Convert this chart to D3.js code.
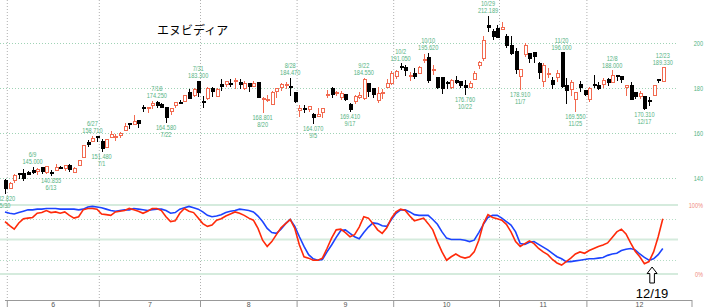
<!DOCTYPE html>
<html>
<head>
<meta charset="utf-8">
<script src="https://cdn.jsdelivr.net/npm/d3@7"></script>
<style>
  body { margin: 0; background: #fff; }
  svg { display: block; }
</style>
</head>
<body>
<svg id="chart" width="706" height="308"></svg>
<script>
// trading days 5/30 .. 12/23
const dates = ['5/30',
  '6/2','6/3','6/4','6/5','6/6','6/9','6/10','6/11','6/12','6/13','6/16','6/17','6/18','6/20','6/23','6/24','6/25','6/26','6/27','6/30',
  '7/1','7/2','7/3','7/7','7/8','7/9','7/10','7/11','7/14','7/15','7/16','7/17','7/18','7/21','7/22','7/23','7/24','7/25','7/28','7/29','7/30','7/31',
  '8/1','8/4','8/5','8/6','8/7','8/8','8/11','8/12','8/13','8/14','8/15','8/18','8/19','8/20','8/21','8/22','8/25','8/26','8/27','8/28','8/29',
  '9/2','9/3','9/4','9/5','9/8','9/9','9/10','9/11','9/12','9/15','9/16','9/17','9/18','9/19','9/22','9/23','9/24','9/25','9/26','9/29','9/30',
  '10/1','10/2','10/3','10/6','10/7','10/8','10/9','10/10','10/13','10/14','10/15','10/16','10/17','10/20','10/21','10/22','10/23','10/24','10/27','10/28','10/29','10/30','10/31',
  '11/3','11/4','11/5','11/6','11/7','11/10','11/11','11/12','11/13','11/14','11/17','11/18','11/19','11/20','11/21','11/24','11/25','11/26','11/28',
  '12/1','12/2','12/3','12/4','12/5','12/8','12/9','12/10','12/11','12/12','12/15','12/16','12/17','12/18','12/19','12/22','12/23'];

const opens = [138.72,
  135.49,138.78,142.19,142.17,142.51,143.19,142.69,144.61,142.50,142.48,143.35,144.49,144.01,145.45,142.50,145.56,149.27,155.98,156.04,158.37,
  156.29,153.60,158.22,157.90,159.02,161.22,164.32,163.72,165.37,171.19,171.06,172.02,173.64,172.75,171.34,169.53,172.44,173.61,174.02,177.96,176.51,182.90,
  174.09,175.16,179.62,176.33,181.57,181.56,182.16,182.96,182.62,179.75,181.88,180.60,182.43,175.17,174.85,172.61,178.35,180.06,181.30,180.82,178.11,
  170.00,171.06,170.57,168.03,167.55,169.08,176.64,179.68,177.77,175.67,177.00,172.64,173.98,175.77,175.30,181.97,179.77,174.48,178.17,180.43,182.08,
  185.24,189.60,189.19,185.50,186.23,186.57,192.23,193.51,187.97,184.77,184.80,182.23,180.18,183.13,182.79,181.14,180.42,183.84,189.99,193.05,207.98,205.15,206.45,
  206.00,203.00,198.77,196.42,184.90,195.11,195.15,195.72,191.05,182.86,185.97,183.38,184.79,195.95,181.24,179.49,174.91,181.63,179.01,
  174.76,181.76,181.08,181.62,183.89,182.64,185.56,184.97,180.28,181.11,177.94,176.26,176.10,174.53,176.67,183.92,182.97];

const highs = [139.62,
  138.12,142.00,142.39,144.00,143.27,145.00,144.29,144.99,144.98,143.58,146.18,145.22,145.65,146.20,144.78,147.96,154.45,156.72,158.71,158.60,
  157.20,157.48,160.98,159.71,160.54,164.42,164.50,167.89,165.49,172.40,171.75,174.16,174.25,173.38,171.39,171.26,173.83,174.72,176.80,179.38,179.89,183.30,
  176.54,180.26,180.26,179.90,183.88,183.30,183.85,184.30,183.97,183.03,181.90,182.94,182.50,175.92,176.90,178.80,180.00,182.36,182.59,184.47,178.15,
  172.38,172.41,171.86,169.03,170.96,170.98,179.29,180.28,178.60,178.85,177.50,173.20,177.10,178.08,184.55,182.42,179.78,180.26,179.77,184.00,187.35,
  188.14,191.05,190.36,187.23,189.06,189.60,195.30,195.62,190.11,184.80,184.87,183.28,184.10,185.20,182.79,183.44,183.03,187.47,192.00,203.15,212.189,206.16,207.97,
  209.50,203.97,202.92,197.62,188.32,199.94,195.42,195.89,191.44,191.01,189.00,184.80,187.86,196.00,184.56,183.50,178.16,182.91,179.29,
  180.30,185.66,182.45,184.52,184.66,188.00,185.72,185.48,181.32,182.82,178.42,178.49,176.13,176.15,181.45,184.16,189.33];

const lows = [132.82,
  135.40,137.95,139.55,138.83,141.51,141.94,141.53,141.87,141.85,140.855,143.20,143.78,143.12,142.65,142.03,145.50,149.26,154.00,155.91,156.16,
  151.48,153.32,157.86,156.60,157.87,161.16,161.64,163.47,162.02,169.20,168.90,170.83,171.26,171.00,164.58,167.97,171.30,172.96,173.80,175.02,176.04,175.93,
  170.89,174.51,175.90,176.25,178.80,180.40,180.25,179.46,179.35,179.04,178.04,180.59,175.49,168.801,173.81,172.47,175.62,178.79,179.60,176.41,173.14,
  167.22,168.89,169.41,164.07,167.35,166.73,175.47,175.52,176.45,174.51,174.38,169.41,172.96,175.18,174.71,176.21,175.40,173.13,174.93,180.32,181.48,
  183.90,188.06,185.38,183.33,184.00,186.54,191.06,182.05,185.96,179.70,177.29,179.77,179.75,181.73,179.80,176.76,179.79,183.50,188.43,191.91,204.78,201.41,202.07,
  205.56,197.93,194.73,186.38,178.91,193.79,191.30,191.13,183.85,180.58,184.32,179.65,182.83,179.85,172.93,176.48,169.55,178.24,176.50,
  173.68,180.00,179.11,179.96,180.91,182.40,183.32,182.04,176.62,174.62,175.03,174.90,170.31,171.82,176.34,182.35,182.90];

const closes = [135.13,
  137.38,141.22,141.92,139.99,141.72,142.63,143.96,142.83,144.90,141.97,144.69,144.12,145.48,143.85,144.17,147.90,154.31,155.02,157.75,157.99,
  153.30,157.25,159.34,158.24,160.00,162.88,164.10,164.92,164.07,170.70,171.37,173.00,172.41,171.38,167.03,170.78,173.74,173.50,176.75,175.51,179.27,177.87,
  173.72,180.00,178.26,179.42,180.77,182.70,182.06,183.16,181.59,182.02,180.45,182.01,175.64,175.40,174.98,177.99,179.81,181.77,181.60,180.17,174.18,
  170.78,170.62,171.66,167.02,168.31,170.76,177.33,177.17,177.82,177.75,174.88,170.29,176.24,176.67,183.61,178.43,176.97,177.69,178.19,181.85,186.58,
  187.24,188.89,187.62,185.54,185.04,189.11,192.57,183.16,188.32,180.03,179.83,181.81,183.22,182.64,181.16,180.28,182.16,186.26,191.49,201.03,207.04,202.89,202.49,
  206.88,198.69,195.21,188.08,188.15,199.05,193.16,193.80,186.86,190.17,186.60,181.36,186.52,180.64,178.88,182.55,177.82,180.26,177.00,
  179.92,181.46,179.59,183.38,182.41,185.55,184.97,183.78,180.93,175.02,176.29,177.72,170.94,174.14,180.99,183.69,189.21];

// stochastics (%), red and blue lines
const stochK = [76,70,65,74,80,81,82,88,89,92, 89,90,88,90,85,81,83,93,95,95,
  94,87,86,85,90,91,92,95,93,91, 88,91,95,95,92,83,76,77,88,95,
  91,89,81,73,69,71,78,80,84,87, 90,88,85,81,78,66,49,40,47,57,
  67,73,79,66,42,25,23,20,20,23, 37,52,64,65,60,54,57,68,
  83,81,73,64,59,67,81,90,94,92, 84,77,79,81,73,64,47,32,20,25,
  29,25,23,25,32,49,73,86,82,80, 78,72,61,47,40,44,48,44,37,32,
  28,21,16,13,18,23,29,32,30,34, 37,40,42,45,53,61,65,58,45,33,
  25,15,18,32,54,80];

const stochD = [90,88,87,89,91,93,93,94,94,95, 95,95,94,94,94,94,93,94,97,98,
  97,96,94,92,91,92,93,93,95,94, 93,92,93,94,94,92,88,89,94,96,
  98,96,94,90,85,83,84,86,89,91, 92,94,93,92,90,84,76,66,60,59,
  65,73,79,69,54,40,28,22,20,21, 32,42,53,63,64,
  59,54,51,60,68,74,73,70,69,79, 88,93,93,90,86,85,85,85,79,72,
  61,52,50,50,50,49,47,49,60,72, 82,85,85,81,76,71,61,44,43,46,
  47,43,39,35,30,25,22,18,18,19, 20,21,22,22,23,24,27,29,30,34,
  36,37,35,29,24,20,22,28,37];

const highMarks = ['6/9','6/27','7/18','7/31','8/28','9/22','10/2','10/10','10/29','11/20','12/8','12/23'];
const lowMarks = ['5/30','6/13','7/1','7/22','8/20','9/5','9/17','10/22','11/7','11/25','12/17'];
const priceTicks = [140, 160, 180, 200];
const monthLabels = ['6','7','8','9','10','11','12'];
const title = 'エヌビディア';
const arrowDate = '12/19';

const upColor = '#f26a50';
const labelColor = '#55b383';

const svg = d3.select('#chart');

const xScale = d3.scalePoint().domain(dates).range([5, 662.8]);
const step = xScale.step();
const yPrice = d3.scaleLinear().domain([140, 200]).range([178, 43]);
const yOsc = d3.scaleLinear().domain([0, 100]).range([274, 205]);
const axisEnd = 692, gridEnd = 678;

//month boundaries
const month = d => d.split('/')[0];
const starts = dates.map((d, i) => i).filter(i => i > 0 && month(dates[i]) !== month(dates[i - 1]));
const bounds = starts.map(i => xScale(dates[i]) - step / 2);

const grid = svg.append('g');
grid.selectAll('.vgrid').data(bounds).enter().append('line')
  .attr('x1', d => d).attr('x2', d => d)
  .attr('y1', 0).attr('y2', 300)
  .attr('stroke', '#b0b0b0').attr('stroke-dasharray', '1,2');

grid.selectAll('.pgrid').data(priceTicks).enter().append('line')
  .attr('x1', 0).attr('x2', gridEnd)
  .attr('y1', d => Math.round(yPrice(d)) + 0.5).attr('y2', d => Math.round(yPrice(d)) + 0.5)
  .attr('stroke', '#9fd3b5').attr('stroke-dasharray', '1,2');

// oscillator guide lines
grid.selectAll('.osolid').data([0, 50, 100]).enter().append('line')
  .attr('x1', 0).attr('x2', gridEnd)
  .attr('y1', d => yOsc(d)).attr('y2', d => yOsc(d))
  .attr('stroke', '#d5ebdd').attr('stroke-width', 2);
grid.selectAll('.odot').data([20, 80]).enter().append('line')
  .attr('x1', 0).attr('x2', gridEnd)
  .attr('y1', d => Math.round(yOsc(d)) + 0.5).attr('y2', d => Math.round(yOsc(d)) + 0.5)
  .attr('stroke', '#b3dbc4').attr('stroke-dasharray', '1,2');

// bottom axis
const axisG = svg.append('g');
axisG.append('line').attr('x1', 5).attr('x2', axisEnd).attr('y1', 300.5).attr('y2', 300.5).attr('stroke', '#999');
axisG.selectAll('.tick').data(bounds.concat([axisEnd])).enter().append('line')
  .attr('x1', d => d).attr('x2', d => d).attr('y1', 300).attr('y2', 307)
  .attr('stroke', '#999');
const edges = bounds.concat([axisEnd]);
axisG.selectAll('.mlabel').data(monthLabels).enter().append('text')
  .attr('x', (d, i) => (edges[i] + edges[i + 1]) / 2)
  .attr('y', 307)
  .attr('text-anchor', 'middle')
  .attr('font-family', 'Liberation Sans, Arial, sans-serif')
  .attr('font-size', 7)
  .attr('fill', '#555')
  .text(d => d);

// candles
const candles = dates.map((d, i) => ({date: d, o: opens[i], h: highs[i], l: lows[i], c: closes[i]}));
const cg = svg.append('g').attr('shape-rendering', 'crispEdges');
const candle = cg.selectAll('g').data(candles).enter().append('g');
candle.append('line')
  .attr('x1', d => Math.round(xScale(d.date)) + 0.5).attr('x2', d => Math.round(xScale(d.date)) + 0.5)
  .attr('y1', d => yPrice(d.h)).attr('y2', d => yPrice(d.l))
  .attr('stroke', d => d.c >= d.o ? upColor : '#000');
candle.append('rect')
  .attr('x', d => Math.round(xScale(d.date)) - 1)
  .attr('width', 3)
  .attr('y', d => yPrice(Math.max(d.o, d.c)))
  .attr('height', d => Math.max(1, Math.abs(yPrice(d.o) - yPrice(d.c))))
  .attr('fill', d => d.c >= d.o ? '#fff' : '#000')
  .attr('stroke', d => d.c >= d.o ? upColor : '#000')
  .attr('stroke-width', 1);

// high / low labels
const small = (g, x, y, txt, color, anchor) => g.append('text')
  .attr('transform', `translate(${x},${y}) scale(0.8,1)`)
  .attr('text-anchor', anchor || 'middle')
  .attr('font-family', 'Liberation Sans, Arial, sans-serif')
  .attr('font-size', 7)
  .attr('fill', color)
  .text(txt);

const fmt = d3.format('.3f');
const lg = svg.append('g');
highMarks.forEach(d => {
  const i = dates.indexOf(d);
  const x = xScale(d), y = yPrice(highs[i]);
  small(lg, x, y - 9.5, d, labelColor);
  small(lg, x, y - 2.5, fmt(highs[i]), labelColor);
});
lowMarks.forEach(d => {
  const i = dates.indexOf(d);
  const x = xScale(d), y = yPrice(lows[i]);
  small(lg, x, y + 7, fmt(lows[i]), labelColor);
  small(lg, x, y + 14, d, labelColor);
});

// right side labels
priceTicks.forEach(p => small(lg, 703, yPrice(p) + 3, String(p), labelColor, 'end'));
small(lg, 703, yOsc(100) + 3, '100%', '#f08c7c', 'end');
small(lg, 703, yOsc(0) + 3, '0%', '#f08c7c', 'end');

// oscillator lines
const lineK = d3.line().x((d, i) => xScale(dates[i])).y(d => yOsc(d));
svg.append('path').attr('d', lineK(stochD))
  .attr('fill', 'none').attr('stroke', '#1c44ff').attr('stroke-width', 1.6);
svg.append('path').attr('d', lineK(stochK))
  .attr('fill', 'none').attr('stroke', '#ff2a0a').attr('stroke-width', 1.6);

// title
svg.append('text')
  .attr('x', 157).attr('y', 35)
  .attr('font-family', 'Noto Sans CJK JP, sans-serif')
  .attr('font-size', 12)
  .attr('fill', '#000')
  .text(title);

// arrow marker
const ax = xScale(arrowDate) - 1.5;
svg.append('path')
  .attr('d', `M${ax},267 L${ax + 5},273.5 L${ax + 2.3},273.5 L${ax + 2.3},283 L${ax - 2.3},283 L${ax - 2.3},273.5 L${ax - 5},273.5 Z`)
  .attr('fill', '#fff').attr('stroke', '#000').attr('stroke-width', 1);
svg.append('text')
  .attr('x', ax).attr('y', 297.5)
  .attr('text-anchor', 'middle')
  .attr('font-family', 'Liberation Sans, Arial, sans-serif')
  .attr('font-size', 13)
  .attr('fill', '#000')
  .text(arrowDate);
</script>
</body>
</html>
